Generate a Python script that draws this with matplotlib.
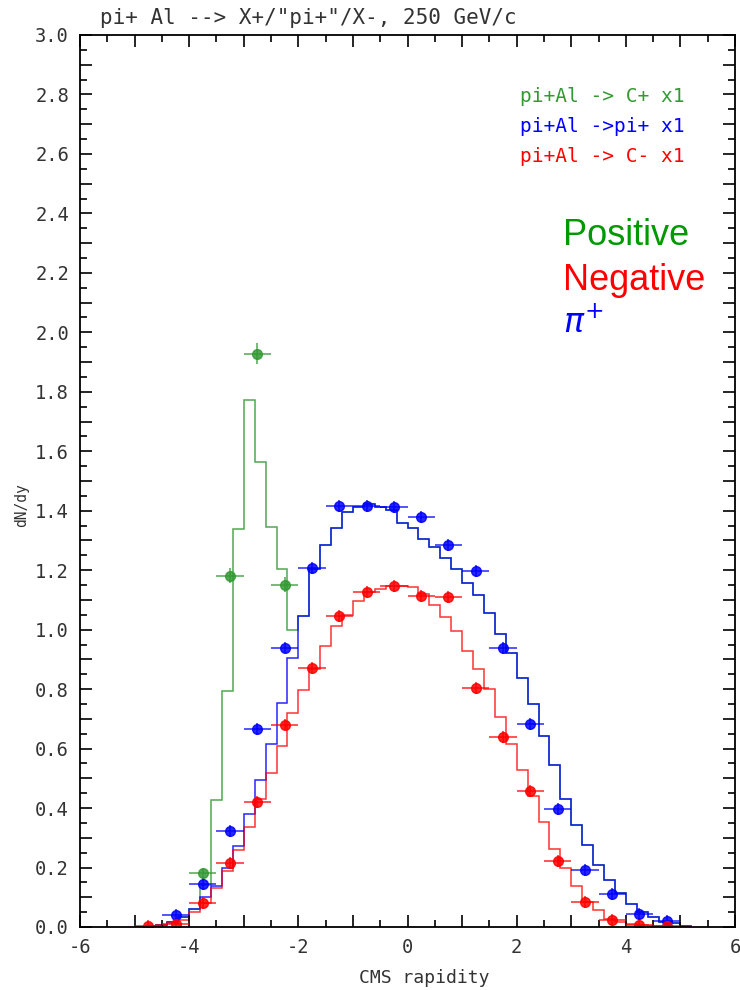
import numpy as np
import matplotlib
matplotlib.use("Agg")
import matplotlib.pyplot as plt
from matplotlib.ticker import MultipleLocator, FuncFormatter

# histogram bins: 0.2 wide from -5.0 to 5.2
edges = np.round(np.arange(-5.0, 5.21, 0.2), 1)

# model dN/dy, one value per bin
hist_piplus = [0.000, 0.003, 0.008, 0.018, 0.035, 0.060, 0.100, 0.139, 0.200, 0.273,
               0.381, 0.493, 0.617, 0.752, 0.904, 1.047, 1.205, 1.284, 1.342, 1.397,
               1.413, 1.421, 1.413, 1.402, 1.360, 1.342, 1.306, 1.278, 1.242, 1.205,
               1.158, 1.115, 1.055, 0.984, 0.921, 0.837, 0.749, 0.642, 0.546, 0.429,
               0.342, 0.276, 0.208, 0.159, 0.113, 0.079, 0.051, 0.034, 0.018, 0.012,
               0.002]
hist_neg = [0.001, 0.003, 0.006, 0.012, 0.025, 0.050, 0.080, 0.130, 0.190, 0.259,
            0.336, 0.430, 0.518, 0.608, 0.719, 0.797, 0.867, 0.946, 1.014, 1.050,
            1.095, 1.126, 1.137, 1.147, 1.147, 1.143, 1.120, 1.083, 1.042, 0.997,
            0.929, 0.869, 0.800, 0.706, 0.614, 0.529, 0.439, 0.353, 0.261, 0.197,
            0.137, 0.085, 0.056, 0.028, 0.017, 0.009, 0.006, 0.003, 0.002, 0.001,
            0.000]
hist_pos = [0.000, 0.003, 0.008, 0.018, 0.035, 0.060, 0.141, 0.426, 0.794, 1.338,
            1.772, 1.563, 1.346, 1.205, 1.000, 1.047, 1.205, 1.284, 1.342, 1.397,
            1.413, 1.421, 1.413, 1.402, 1.360, 1.342, 1.306, 1.278, 1.242, 1.205,
            1.158, 1.115, 1.055, 0.984, 0.921, 0.837, 0.749, 0.642, 0.546, 0.429,
            0.342, 0.276, 0.208, 0.159, 0.113, 0.079, 0.051, 0.034, 0.018, 0.012,
            0.002]

# measured points (bin centres, half width 0.25)
y_neg = [-4.75, -4.25, -3.75, -3.25, -2.75, -2.25, -1.75, -1.25, -0.75, -0.25,
         0.25, 0.75, 1.25, 1.75, 2.25, 2.75, 3.25, 3.75, 4.25, 4.75]
dndy_neg = [0.002, 0.009, 0.081, 0.216, 0.419, 0.681, 0.870, 1.047, 1.128, 1.147,
            1.113, 1.109, 0.803, 0.640, 0.458, 0.221, 0.085, 0.023, 0.007, 0.002]
y_piplus = [-4.25, -3.75, -3.25, -2.75, -2.25, -1.75, -1.25, -0.75, -0.25,
            0.25, 0.75, 1.25, 1.75, 2.25, 2.75, 3.25, 3.75, 4.25, 4.75]
dndy_piplus = [0.042, 0.144, 0.324, 0.665, 0.940, 1.207, 1.416, 1.417, 1.413,
               1.378, 1.286, 1.196, 0.937, 0.684, 0.398, 0.193, 0.111, 0.045, 0.019]
y_pos = [-3.75, -3.25, -2.75, -2.25]
dndy_pos = [0.180, 1.182, 1.928, 1.151]
err_pos = [0.02, 0.025, 0.035, 0.025]

c_green = (0.20, 0.60, 0.20)
c_blue = (0.0, 0.0, 1.0)
c_red = (1.0, 0.0, 0.0)
mono = "DejaVu Sans Mono"
ink = "#333333"

fig = plt.figure(figsize=(7.4, 9.9), dpi=100)
ax = fig.add_axes([80 / 740, 1 - 927 / 990, 655 / 740, 892 / 990])

ax.stairs(hist_pos, edges, color=c_green, lw=1.1, alpha=0.85)
ax.stairs(hist_piplus, edges, color=c_blue, lw=1.1, alpha=0.85)
ax.stairs(hist_neg, edges, color=c_red, lw=1.1, alpha=0.8)

pt = dict(fmt="o", ms=7, elinewidth=1.1, capsize=0, alpha=0.85)
ax.errorbar(y_pos, dndy_pos, xerr=0.25, yerr=err_pos, color=c_green, **pt)
ax.errorbar(y_piplus, dndy_piplus, xerr=0.25, yerr=0.02, color=c_blue, **pt)
ax.errorbar(y_neg, dndy_neg, xerr=0.25, yerr=0.02, color=c_red, **pt)

ax.set_xlim(-6, 6)
ax.set_ylim(0, 3.0)
ax.xaxis.set_major_locator(MultipleLocator(1))
ax.xaxis.set_minor_locator(MultipleLocator(0.5))
ax.yaxis.set_major_locator(MultipleLocator(0.1))
ax.yaxis.set_minor_locator(MultipleLocator(0.05))
ax.xaxis.set_major_formatter(FuncFormatter(
    lambda v, p: f"{v:.0f}" if round(v) % 2 == 0 else ""))
ax.yaxis.set_major_formatter(FuncFormatter(
    lambda v, p: f"{v:.1f}" if round(v * 10) % 2 == 0 else ""))
ax.tick_params(which="both", direction="in", top=True, right=True, width=1.2,
               labelsize=13.5, pad=8, labelcolor=ink)
ax.tick_params(which="major", length=8.5)
ax.tick_params(which="minor", length=5)
for lab in ax.get_xticklabels() + ax.get_yticklabels():
    lab.set_family(mono)
for s in ax.spines.values():
    s.set_linewidth(1.3)

fig.text(100 / 740, 1 - 18 / 990, "pi+ Al --> X+/\"pi+\"/X-, 250 GeV/c",
         family=mono, fontsize=15, color=ink, va="center", ha="left")
fig.text(424 / 740, 1 - 978 / 990, "CMS rapidity", family=mono, fontsize=13,
         color=ink, va="center", ha="center")
fig.text(22 / 740, 1 - 505 / 990, "dN/dy", family=mono, fontsize=10.5,
         color=ink, va="center", ha="center", rotation=90)

fig.text(520 / 740, 1 - 97 / 990, "pi+Al -> C+ x1", family=mono, fontsize=14,
         color=c_green, va="center", ha="left")
fig.text(520 / 740, 1 - 127 / 990, "pi+Al ->pi+ x1", family=mono, fontsize=14,
         color=c_blue, va="center", ha="left")
fig.text(520 / 740, 1 - 157 / 990, "pi+Al -> C- x1", family=mono, fontsize=14,
         color=c_red, va="center", ha="left")

fig.text(563 / 740, 1 - 245 / 990, "Positive", family="Liberation Sans",
         fontsize=26, color=(0.0, 0.6, 0.0), va="baseline", ha="left")
fig.text(563 / 740, 1 - 290 / 990, "Negative", family="Liberation Sans",
         fontsize=26, color=c_red, va="baseline", ha="left")
fig.text(563 / 740, 1 - 333 / 990, r"$\pi^{+}$", fontsize=24, color=c_blue,
         va="baseline", ha="left")

fig.savefig("out.png", dpi=100)
